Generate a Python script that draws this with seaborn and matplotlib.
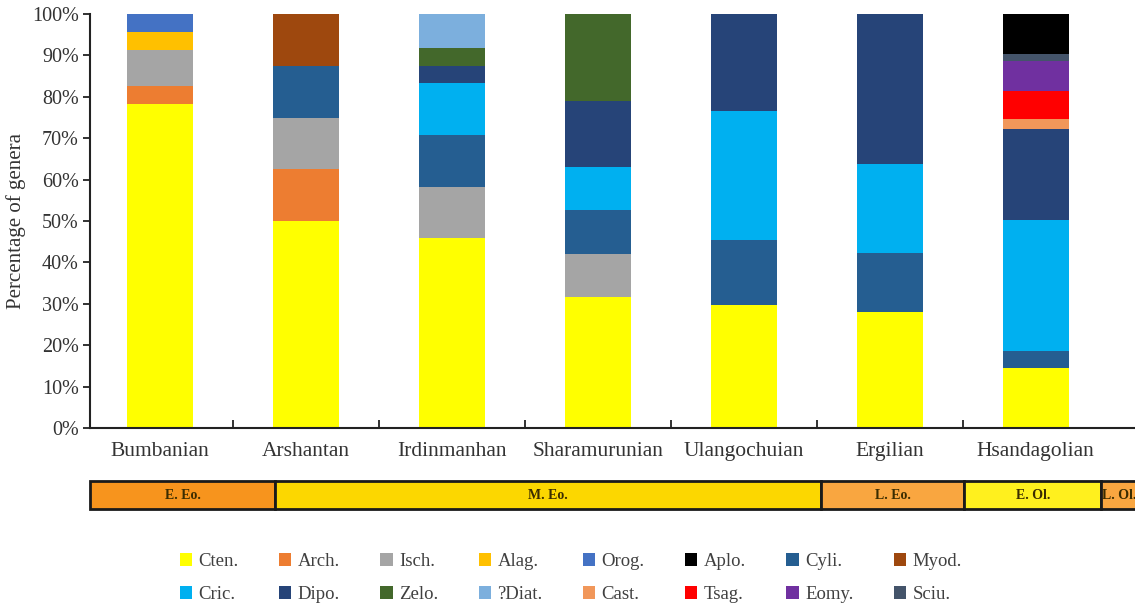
import matplotlib
matplotlib.use("Agg")
import matplotlib.pyplot as plt
from matplotlib.patches import Patch
from matplotlib.ticker import PercentFormatter, FixedLocator
import seaborn as sns
import pandas as pd
import numpy as np

# ---------------- data ----------------
stages = ["Bumbanian", "Arshantan", "Irdinmanhan", "Sharamurunian",
          "Ulangochuian", "Ergilian", "Hsandagolian"]

# percentage of genera per stage (stacking order bottom -> top)
cten = [78.3, 50.0, 45.8, 31.6, 29.7, 28.0, 14.4]
arch = [4.35, 12.5, 0, 0, 0, 0, 0]
isch = [8.7, 12.5, 12.5, 10.5, 0, 0, 0]
alag = [4.35, 0, 0, 0, 0, 0, 0]
orog = [4.3, 0, 0, 0, 0, 0, 0]
cyli = [0, 12.5, 12.5, 10.5, 15.8, 14.2, 4.3]
myod = [0, 12.5, 0, 0, 0, 0, 0]
cric = [0, 0, 12.5, 10.5, 31.0, 21.6, 31.5]
dipo = [0, 0, 4.2, 15.8, 23.5, 36.2, 22.1]
zelo = [0, 0, 4.2, 21.1, 0, 0, 0]
diat = [0, 0, 8.3, 0, 0, 0, 0]
cast = [0, 0, 0, 0, 0, 0, 2.4]
tsag = [0, 0, 0, 0, 0, 0, 6.7]
eomy = [0, 0, 0, 0, 0, 0, 7.2]
sciu = [0, 0, 0, 0, 0, 0, 1.7]
aplo = [0, 0, 0, 0, 0, 0, 9.7]

stack_names = ["Cten.", "Arch.", "Isch.", "Alag.", "Orog.", "Cyli.", "Myod.",
               "Cric.", "Dipo.", "Zelo.", "?Diat.", "Cast.", "Tsag.", "Eomy.",
               "Sciu.", "Aplo."]
stack_values = [cten, arch, isch, alag, orog, cyli, myod, cric, dipo, zelo,
                diat, cast, tsag, eomy, sciu, aplo]

legend_row1 = ["Cten.", "Arch.", "Isch.", "Alag.", "Orog.", "Aplo.", "Cyli.", "Myod."]
legend_row2 = ["Cric.", "Dipo.", "Zelo.", "?Diat.", "Cast.", "Tsag.", "Eomy.", "Sciu."]

colors = {
    "Cten.": "#FFFF00", "Arch.": "#ED7D31", "Isch.": "#A5A5A5", "Alag.": "#FFC000",
    "Orog.": "#4472C4", "Aplo.": "#000000", "Cyli.": "#255E91", "Myod.": "#9E480E",
    "Cric.": "#00B0F0", "Dipo.": "#264478", "Zelo.": "#43682B", "?Diat.": "#7CAFDD",
    "Cast.": "#F1975A", "Tsag.": "#FF0000", "Eomy.": "#7030A0", "Sciu.": "#44546A",
}

# epochs of the timeline bar (in stage-axis units)
epoch_names = ["E. Eo.", "M. Eo.", "L. Eo.", "E. Ol.", "L. Ol."]
epoch_starts = [-0.48, 0.79, 4.53, 5.51, 6.45]
epoch_ends = [0.79, 4.53, 5.51, 6.45, 6.69]
epoch_colors = ["#F7941D", "#FCD700", "#F9A640", "#FFF01E", "#F9A640"]

yticks = [0, 10, 20, 30, 40, 50, 60, 70, 80, 90, 100]

# ---------------- figure ----------------
sns.set_theme(style="white")
plt.rcParams["font.family"] = ["Liberation Serif", "DejaVu Serif"]

W, H = 1135, 614
fig = plt.figure(figsize=(W / 100, H / 100), dpi=100)
ax = fig.add_axes([90 / W, 1 - 428 / H, (W - 90) / W, (428 - 14) / H])

cum = np.cumsum(np.array(stack_values), axis=0)
df = pd.DataFrame({"stage": np.tile(stages, len(stack_names)),
                   "taxon": np.repeat(stack_names, len(stages)),
                   "cum": cum.ravel()})

# draw cumulative bars from top layer downwards -> stacked appearance
for name in reversed(stack_names):
    sub = df[df["taxon"] == name]
    sns.barplot(data=sub, x="stage", y="cum", order=stages, color=colors[name],
                saturation=1, width=0.452, linewidth=0, ax=ax, errorbar=None)

ax.set_xlim(-0.48, 6.68)
ax.set_ylim(0, 100)
ax.set_yticks(yticks)
ax.yaxis.set_major_formatter(PercentFormatter(decimals=0))
ax.set_xlabel("")
ax.set_ylabel("Percentage of genera", fontsize=15, color="#333333", labelpad=4)
for s in ["top", "right"]:
    ax.spines[s].set_visible(False)
for s in ["left", "bottom"]:
    ax.spines[s].set_color("#222222")
    ax.spines[s].set_linewidth(1.5)
ax.tick_params(axis="y", direction="out", length=5, width=1.3, color="#222222",
               labelsize=14.5, labelcolor="#333333", pad=3, left=True)
ax.tick_params(axis="x", which="major", length=0, labelsize=15.5,
               labelcolor="#333333", pad=10)
ax.xaxis.set_minor_locator(FixedLocator(np.arange(0.5, len(stages) - 1, 1.0)))
ax.tick_params(axis="x", which="minor", direction="in", length=6, width=1.3,
               color="#222222", bottom=True)

# ---------------- timeline ----------------
tax = fig.add_axes([90 / W, 1 - 509 / H, (W - 90) / W, 28 / H])
tax.set_xlim(-0.48, 6.68)
tax.set_ylim(0, 1)
widths = [e - s for s, e in zip(epoch_starts, epoch_ends)]
tax.barh([0.5] * len(epoch_names), widths, left=epoch_starts, height=1.0,
         color=epoch_colors, edgecolor="#1a1a1a", linewidth=2, clip_on=False)
for nm, s, e in zip(epoch_names, epoch_starts, epoch_ends):
    tax.text((s + e) / 2, 0.48, nm, ha="center", va="center", fontsize=10,
             fontweight="bold", color="#3a2c00")
tax.axis("off")

# ---------------- legend (row-major display with column-major filling) ----------------
handles = []
for a, b in zip(legend_row1, legend_row2):
    handles.append(Patch(facecolor=colors[a], edgecolor="none", label=a))
    handles.append(Patch(facecolor=colors[b], edgecolor="none", label=b))
fig.legend(handles=handles, loc="center", bbox_to_anchor=(0.503, 1 - 578 / H),
           ncol=8, frameon=False, fontsize=13.5, labelcolor="#404040",
           handlelength=0.65, handleheight=0.65, handletextpad=0.35,
           columnspacing=2.15, labelspacing=0.85)

fig.savefig("out.png", dpi=100)
